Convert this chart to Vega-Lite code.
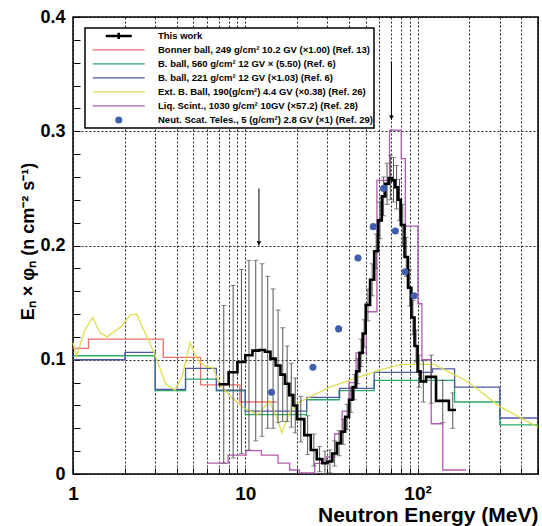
{
  "$schema": "https://vega.github.io/schema/vega-lite/v6.json",
  "width": 465,
  "height": 457,
  "autosize": {"type": "none"},
  "padding": {"left": 73, "top": 17, "right": 4, "bottom": 52},
  "config": {"font": "Liberation Sans", "view": {"stroke": "#000", "strokeWidth": 1.5}},
  "datasets": {
    "steps": [
      {"s": "bonner", "e": 1, "v": 0.110}, {"s": "bonner", "e": 1.23, "v": 0.118}, {"s": "bonner", "e": 3.34, "v": 0.102},
      {"s": "bonner", "e": 5.5, "v": 0.078}, {"s": "bonner", "e": 9.3, "v": 0.063}, {"s": "bonner", "e": 15.2, "v": 0.063},
      {"s": "bb560", "e": 1, "v": 0.1035}, {"s": "bb560", "e": 3, "v": 0.073}, {"s": "bb560", "e": 4.5, "v": 0.083},
      {"s": "bb560", "e": 6.8, "v": 0.0727}, {"s": "bb560", "e": 10, "v": 0.052}, {"s": "bb560", "e": 22.7, "v": 0.065},
      {"s": "bb560", "e": 35, "v": 0.073}, {"s": "bb560", "e": 56, "v": 0.082}, {"s": "bb560", "e": 164, "v": 0.063},
      {"s": "bb560", "e": 300, "v": 0.043}, {"s": "bb560", "e": 500, "v": 0.043},
      {"s": "bb221", "e": 1, "v": 0.100}, {"s": "bb221", "e": 2, "v": 0.1065}, {"s": "bb221", "e": 3, "v": 0.074},
      {"s": "bb221", "e": 4.5, "v": 0.0925}, {"s": "bb221", "e": 6.8, "v": 0.0735}, {"s": "bb221", "e": 10, "v": 0.055},
      {"s": "bb221", "e": 22.7, "v": 0.067}, {"s": "bb221", "e": 35.3, "v": 0.075}, {"s": "bb221", "e": 56, "v": 0.089},
      {"s": "bb221", "e": 122, "v": 0.092}, {"s": "bb221", "e": 164, "v": 0.076}, {"s": "bb221", "e": 300, "v": 0.049},
      {"s": "bb221", "e": 500, "v": 0.049},
      {"s": "liq", "e": 6, "v": 0.0095}, {"s": "liq", "e": 7.95, "v": 0.0166}, {"s": "liq", "e": 10.1, "v": 0.0204},
      {"s": "liq", "e": 12.4, "v": 0.0166}, {"s": "liq", "e": 15.5, "v": 0.0095}, {"s": "liq", "e": 18.1, "v": 0.0035},
      {"s": "liq", "e": 20.6, "v": 0.001}, {"s": "liq", "e": 25.3, "v": 0.0093}, {"s": "liq", "e": 29.6, "v": 0.015},
      {"s": "liq", "e": 33, "v": 0.035}, {"s": "liq", "e": 36.5, "v": 0.055}, {"s": "liq", "e": 40, "v": 0.08},
      {"s": "liq", "e": 44, "v": 0.106}, {"s": "liq", "e": 50.4, "v": 0.142}, {"s": "liq", "e": 58.1, "v": 0.257},
      {"s": "liq", "e": 68.8, "v": 0.301}, {"s": "liq", "e": 80.4, "v": 0.276}, {"s": "liq", "e": 84.9, "v": 0.217},
      {"s": "liq", "e": 100.4, "v": 0.149}, {"s": "liq", "e": 106, "v": 0.10}, {"s": "liq", "e": 120, "v": 0.044},
      {"s": "liq", "e": 140, "v": 0.0035}, {"s": "liq", "e": 191, "v": 0.0035}
    ],
    "ext": [
      {"s": "ext", "e": 1.0, "v": 0.115}, {"s": "ext", "e": 1.05, "v": 0.103}, {"s": "ext", "e": 1.17, "v": 0.126},
      {"s": "ext", "e": 1.30, "v": 0.137}, {"s": "ext", "e": 1.43, "v": 0.124}, {"s": "ext", "e": 1.58, "v": 0.120},
      {"s": "ext", "e": 1.91, "v": 0.129}, {"s": "ext", "e": 2.14, "v": 0.139}, {"s": "ext", "e": 2.34, "v": 0.140},
      {"s": "ext", "e": 3.0, "v": 0.104}, {"s": "ext", "e": 3.45, "v": 0.079}, {"s": "ext", "e": 3.9, "v": 0.0735},
      {"s": "ext", "e": 4.3, "v": 0.085}, {"s": "ext", "e": 4.77, "v": 0.115}, {"s": "ext", "e": 5.33, "v": 0.099},
      {"s": "ext", "e": 5.9, "v": 0.094}, {"s": "ext", "e": 6.5, "v": 0.093}, {"s": "ext", "e": 7.1, "v": 0.078},
      {"s": "ext", "e": 8.2, "v": 0.068}, {"s": "ext", "e": 10, "v": 0.057}, {"s": "ext", "e": 11.8, "v": 0.052},
      {"s": "ext", "e": 13.8, "v": 0.064}, {"s": "ext", "e": 15.2, "v": 0.050}, {"s": "ext", "e": 16.3, "v": 0.036},
      {"s": "ext", "e": 18.2, "v": 0.055}, {"s": "ext", "e": 20.7, "v": 0.063}, {"s": "ext", "e": 30.9, "v": 0.076},
      {"s": "ext", "e": 46, "v": 0.085}, {"s": "ext", "e": 60, "v": 0.091}, {"s": "ext", "e": 80, "v": 0.096},
      {"s": "ext", "e": 125, "v": 0.096}, {"s": "ext", "e": 195, "v": 0.081}, {"s": "ext", "e": 300, "v": 0.059},
      {"s": "ext", "e": 500, "v": 0.041}
    ],
    "work": [
      {"s": "work", "e": 7, "c": 7.5, "v": 0.0785, "lo": 0.0095, "hi": 0.1475},
      {"s": "work", "e": 8, "c": 8.5, "v": 0.089, "lo": 0.014, "hi": 0.165},
      {"s": "work", "e": 9, "c": 9.5, "v": 0.098, "lo": 0.018, "hi": 0.179},
      {"s": "work", "e": 10, "c": 10.5, "v": 0.104, "lo": 0.021, "hi": 0.187},
      {"s": "work", "e": 11, "c": 11.5, "v": 0.108, "lo": 0.029, "hi": 0.187},
      {"s": "work", "e": 12, "c": 12.5, "v": 0.1085, "lo": 0.033, "hi": 0.184},
      {"s": "work", "e": 13, "c": 13.5, "v": 0.107, "lo": 0.040, "hi": 0.173},
      {"s": "work", "e": 14, "c": 14.5, "v": 0.101, "lo": 0.040, "hi": 0.162},
      {"s": "work", "e": 15, "c": 15.5, "v": 0.095, "lo": 0.045, "hi": 0.1435},
      {"s": "work", "e": 16, "c": 16.5, "v": 0.087, "lo": 0.046, "hi": 0.128},
      {"s": "work", "e": 17, "c": 17.5, "v": 0.079, "lo": 0.046, "hi": 0.112},
      {"s": "work", "e": 18, "c": 18.5, "v": 0.069, "lo": 0.041, "hi": 0.097},
      {"s": "work", "e": 19, "c": 19.5, "v": 0.060, "lo": 0.036, "hi": 0.084},
      {"s": "work", "e": 20, "c": 21, "v": 0.048, "lo": 0.028, "hi": 0.068},
      {"s": "work", "e": 22, "c": 23, "v": 0.034, "lo": 0.017, "hi": 0.051},
      {"s": "work", "e": 24, "c": 25, "v": 0.021, "lo": 0.007, "hi": 0.035},
      {"s": "work", "e": 26, "c": 27, "v": 0.013, "lo": 0.002, "hi": 0.024},
      {"s": "work", "e": 28, "c": 29, "v": 0.0095, "lo": 0.0, "hi": 0.020},
      {"s": "work", "e": 30, "c": 31, "v": 0.011, "lo": 0.001, "hi": 0.021},
      {"s": "work", "e": 32, "c": 33, "v": 0.018, "lo": 0.007, "hi": 0.029},
      {"s": "work", "e": 34, "c": 35, "v": 0.027, "lo": 0.016, "hi": 0.038},
      {"s": "work", "e": 36, "c": 37, "v": 0.037, "lo": 0.026, "hi": 0.048},
      {"s": "work", "e": 38, "c": 39, "v": 0.050, "lo": 0.039, "hi": 0.061},
      {"s": "work", "e": 40, "c": 41, "v": 0.065, "lo": 0.054, "hi": 0.076},
      {"s": "work", "e": 42, "c": 43, "v": 0.076, "lo": 0.065, "hi": 0.087},
      {"s": "work", "e": 44, "c": 45, "v": 0.090, "lo": 0.079, "hi": 0.101},
      {"s": "work", "e": 46, "c": 47, "v": 0.106, "lo": 0.094, "hi": 0.118},
      {"s": "work", "e": 48, "c": 49, "v": 0.123, "lo": 0.111, "hi": 0.135},
      {"s": "work", "e": 50, "c": 51.5, "v": 0.148, "lo": 0.134, "hi": 0.162},
      {"s": "work", "e": 53, "c": 54.5, "v": 0.170, "lo": 0.156, "hi": 0.184},
      {"s": "work", "e": 56, "c": 57.5, "v": 0.195, "lo": 0.180, "hi": 0.210},
      {"s": "work", "e": 59, "c": 60.5, "v": 0.222, "lo": 0.206, "hi": 0.238},
      {"s": "work", "e": 62, "c": 63.5, "v": 0.243, "lo": 0.226, "hi": 0.260},
      {"s": "work", "e": 65, "c": 66.5, "v": 0.254, "lo": 0.236, "hi": 0.272},
      {"s": "work", "e": 68, "c": 69.5, "v": 0.259, "lo": 0.240, "hi": 0.279},
      {"s": "work", "e": 71, "c": 72.5, "v": 0.257, "lo": 0.238, "hi": 0.277},
      {"s": "work", "e": 74, "c": 75.5, "v": 0.251, "lo": 0.232, "hi": 0.270},
      {"s": "work", "e": 77, "c": 78.5, "v": 0.240, "lo": 0.222, "hi": 0.258},
      {"s": "work", "e": 80, "c": 82, "v": 0.218, "lo": 0.200, "hi": 0.236},
      {"s": "work", "e": 84, "c": 86, "v": 0.190, "lo": 0.173, "hi": 0.207},
      {"s": "work", "e": 88, "c": 90, "v": 0.163, "lo": 0.147, "hi": 0.179},
      {"s": "work", "e": 92, "c": 94, "v": 0.137, "lo": 0.122, "hi": 0.152},
      {"s": "work", "e": 96, "c": 98, "v": 0.112, "lo": 0.098, "hi": 0.126},
      {"s": "work", "e": 100, "c": 102, "v": 0.090, "lo": 0.076, "hi": 0.104},
      {"s": "work", "e": 104, "c": 108, "v": 0.081, "lo": 0.063, "hi": 0.099},
      {"s": "work", "e": 112, "c": 120, "v": 0.085, "lo": 0.062, "hi": 0.104},
      {"s": "work", "e": 128, "c": 140, "v": 0.064, "lo": 0.045, "hi": 0.082},
      {"s": "work", "e": 152, "c": 160, "v": 0.056, "lo": 0.040, "hi": 0.071},
      {"s": "work", "e": 167, "v": 0.056}
    ],
    "nst": [
      {"s": "nst", "e": 14.2, "v": 0.0715}, {"s": "nst", "e": 24.7, "v": 0.0934}, {"s": "nst", "e": 34.8, "v": 0.127},
      {"s": "nst", "e": 45.1, "v": 0.189}, {"s": "nst", "e": 55.3, "v": 0.2165}, {"s": "nst", "e": 63.5, "v": 0.25},
      {"s": "nst", "e": 74.3, "v": 0.2127}, {"s": "nst", "e": 84.6, "v": 0.177}, {"s": "nst", "e": 95.5, "v": 0.156}
    ],
    "arrows": [
      {"e": 12.0, "v": 0.250, "tip": 0.2},
      {"e": 70.5, "v": 0.361, "tip": 0.31}
    ]
  },
  "encoding": {
    "x": {
      "field": "e", "type": "quantitative",
      "scale": {"type": "log", "domain": [1, 500], "nice": false},
      "axis": {
        "title": "Neutron Energy (MeV)",
        "values": [1, 2, 3, 4, 5, 6, 7, 8, 9, 10, 20, 30, 40, 50, 60, 70, 80, 90, 100, 200, 300, 400, 500],
        "labelExpr": "datum.value == 1 ? '1' : (datum.value == 10 ? '10' : (datum.value == 100 ? '10²' : ''))",
        "labelFontSize": 19, "labelFontWeight": "bold", "labelColor": "#000",
        "labelFlush": false, "labelOverlap": false, "labelBound": false, "labelPadding": 16,
        "tickSize": -6, "tickColor": "#000", "tickWidth": 1,
        "grid": true, "gridColor": "#000", "gridDash": [2, 2], "gridOpacity": 0.85, "gridWidth": 1,
        "domain": false,
        "titleFontSize": 21, "titleFontWeight": "bold", "titleColor": "#000",
        "titleAnchor": "end", "titlePadding": 1
      }
    },
    "y": {
      "field": "v", "type": "quantitative",
      "scale": {"domain": [0, 0.4], "nice": false, "zero": false},
      "axis": {
        "title": "Eₙ × φₙ (n cm⁻² s⁻¹)",
        "values": [0, 0.02, 0.04, 0.06, 0.08, 0.1, 0.12, 0.14, 0.16, 0.18, 0.2, 0.22, 0.24, 0.26, 0.28, 0.3, 0.32, 0.34, 0.36, 0.38, 0.4],
        "labelExpr": "abs(datum.value * 10 - round(datum.value * 10)) < 0.001 ? (datum.value == 0 ? '0' : format(datum.value, '.1f')) : ''",
        "labelFontSize": 18, "labelFontWeight": "bold", "labelColor": "#000",
        "labelFlush": false, "labelOverlap": false, "labelBound": false, "labelPadding": 15,
        "tickSize": -7, "tickColor": "#000", "tickWidth": 1,
        "grid": true, "gridColor": "#000", "gridDash": [2, 2], "gridWidth": 1,
        "gridOpacity": {"condition": {"test": "abs(datum.value * 10 - round(datum.value * 10)) < 0.001", "value": 0.85}, "value": 0},
        "domain": false,
        "titleFontSize": 18, "titleFontWeight": "bold", "titleColor": "#000",
        "titleX": -45, "titleY": 224, "titleBaseline": "middle", "titleAlign": "center"
      }
    },
    "color": {
      "field": "s", "type": "nominal",
      "scale": {
        "domain": ["work", "bonner", "bb560", "bb221", "ext", "liq", "nst"],
        "range": ["#000000", "#f26d6d", "#2aa76a", "#4d5aa6", "#dede4f", "#b25bb2", "#3f5fae"]
      },
      "legend": {
        "title": null, "orient": "none", "legendX": 12, "legendY": 11, "direction": "vertical", "columns": 1,
        "symbolType": "stroke", "symbolSize": 2704, "symbolStrokeWidth": 1.3,
        "clipHeight": 13.9, "rowPadding": 0, "padding": 1,
        "symbolOffset": 28, "labelOffset": 34.5,
        "labelFont": "Liberation Sans", "labelFontWeight": "bold", "labelFontSize": 9.5, "labelColor": "#000", "labelLimit": 400,
        "strokeColor": "#000", "fillColor": "#fff",
        "labelExpr": "datum.value == 'work' ? 'This work' : datum.value == 'bonner' ? 'Bonner ball, 249 g/cm² 10.2 GV (×1.00) (Ref. 13)' : datum.value == 'bb560' ? 'B. ball, 560 g/cm² 12 GV × (5.50) (Ref. 6)' : datum.value == 'bb221' ? 'B. ball, 221 g/cm² 12 GV (×1.03) (Ref. 6)' : datum.value == 'ext' ? 'Ext. B. Ball, 190(g/cm²) 4.4 GV (×0.38) (Ref. 26)' : datum.value == 'liq' ? 'Liq. Scint., 1030 g/cm² 10GV (×57.2) (Ref. 28)' : 'Neut. Scat. Teles., 5 (g/cm²) 2.8 GV (×1) (Ref. 29)'",
        "encode": {
          "legend": {"update": {"strokeWidth": {"value": 1.5}}},
          "symbols": {
            "update": {
              "shape": {"signal": "datum.value == 'nst' ? 'circle' : (datum.value == 'work' ? 'M-0.5,0H0.5M0,-0.12V0.12' : 'stroke')"},
              "size": {"signal": "datum.value == 'nst' ? 50 : 2704"},
              "strokeWidth": {"signal": "datum.value == 'work' ? 2.5 : (datum.value == 'nst' ? 0 : 1.3)"},
              "fill": {"signal": "datum.value == 'nst' ? '#3f5fae' : 'transparent'"},
              "stroke": {"signal": "scale('color', datum.value)"},
              "opacity": {"value": 1}
            }
          }
        }
      }
    }
  },
  "layer": [
    {
      "data": {"name": "steps"},
      "mark": {"type": "line", "interpolate": "step-after", "strokeWidth": 1.3}
    },
    {
      "data": {"name": "ext"},
      "mark": {"type": "line", "strokeWidth": 1.3}
    },
    {
      "data": {"name": "work"},
      "transform": [{"filter": "isValid(datum.c)"}],
      "mark": {"type": "rule", "strokeWidth": 1},
      "encoding": {
        "x": {"field": "c", "type": "quantitative"},
        "y": {"field": "lo", "type": "quantitative"},
        "y2": {"field": "hi"},
        "color": {"value": "#555"}
      }
    },
    {
      "data": {"name": "work"},
      "transform": [{"filter": "isValid(datum.c)"}],
      "mark": {"type": "tick", "orient": "horizontal", "size": 5, "thickness": 1},
      "encoding": {
        "x": {"field": "c", "type": "quantitative"},
        "y": {"field": "lo", "type": "quantitative"},
        "color": {"value": "#555"}
      }
    },
    {
      "data": {"name": "work"},
      "transform": [{"filter": "isValid(datum.c)"}],
      "mark": {"type": "tick", "orient": "horizontal", "size": 5, "thickness": 1},
      "encoding": {
        "x": {"field": "c", "type": "quantitative"},
        "y": {"field": "hi", "type": "quantitative"},
        "color": {"value": "#555"}
      }
    },
    {
      "data": {"name": "work"},
      "mark": {"type": "line", "interpolate": "step-after", "strokeWidth": 2.6}
    },
    {
      "data": {"name": "nst"},
      "mark": {"type": "point", "filled": true, "size": 50, "opacity": 1}
    },
    {
      "data": {"name": "arrows"},
      "mark": {"type": "rule", "strokeWidth": 1},
      "encoding": {
        "y2": {"field": "tip"},
        "color": {"value": "#000"}
      }
    },
    {
      "data": {"name": "arrows"},
      "mark": {"type": "point", "shape": "triangle-down", "filled": true, "size": 22, "opacity": 1, "yOffset": -2.3},
      "encoding": {
        "y": {"field": "tip", "type": "quantitative"},
        "color": {"value": "#000"}
      }
    }
  ]
}
